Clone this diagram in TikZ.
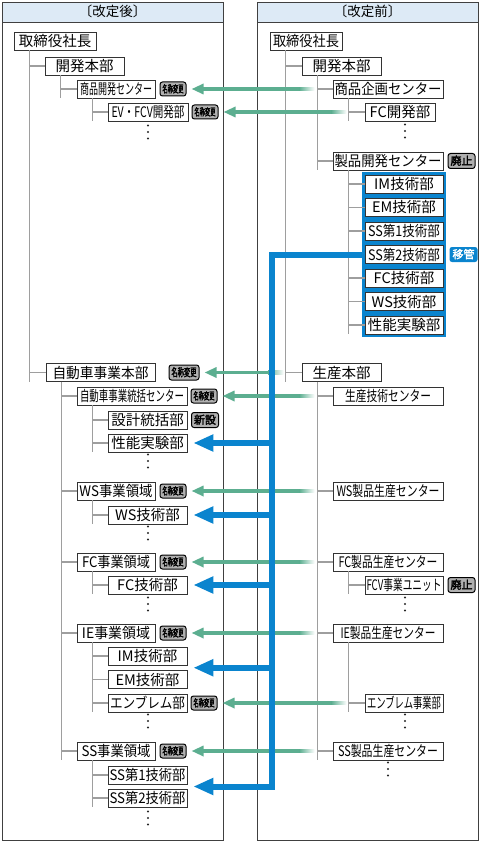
\documentclass[tikz,border=0pt]{standalone}
\usepackage{fontspec}
\setmainfont{Noto Sans CJK JP}
\newfontfamily\bdgfont{Noto Sans CJK JP}[FakeBold=2.5]
\usepackage{graphicx}
\usetikzlibrary{arrows.meta, calc, fit, backgrounds}

\definecolor{grn}{RGB}{92,174,144}
\definecolor{blu}{RGB}{10,132,206}
\definecolor{hdrbg}{RGB}{221,234,246}
\definecolor{treeg}{RGB}{158,158,158}
\definecolor{bdggray}{RGB}{176,176,176}

% squeeze text to a given width
\newcommand\sqz[2]{\resizebox{#1}{\height}{#2}}

\tikzset{
  box/.style={draw=black!80, fill=white, line width=0.7pt, minimum width=#1,
    minimum height=18pt, inner sep=0pt, text height=12.2pt, text depth=1.2pt,
    font=\fontsize{14.5}{15}\selectfont},
  box/.default=79pt,
  badge/.style={draw=black, line width=1pt, fill=bdggray, rounded corners=2.5pt,
    minimum height=14pt, inner xsep=2.5pt, inner ysep=0pt, text height=8pt,
    text depth=0.8pt, font=\bdgfont\fontsize{10}{10}\selectfont},
  bigbadge/.style={badge, minimum height=15pt, text height=8.6pt, text depth=0.9pt,
    font=\bdgfont\fontsize{11}{11}\selectfont},
  blubadge/.style={fill=blu, text=white, rounded corners=2.5pt, minimum height=15pt,
    inner xsep=3pt, inner ysep=0pt, text height=8.6pt, text depth=0.9pt,
    font=\bdgfont\fontsize{11}{11}\selectfont},
  hdr/.style={draw=black!75, fill=hdrbg, line width=0.9pt, minimum width=221pt,
    minimum height=20pt, inner sep=0pt, text height=11pt, text depth=1.5pt,
    font=\fontsize{13.5}{14}\selectfont},
  panel/.style={draw=black!75, line width=0.9pt},
  tree/.style={draw=treeg, line width=1.2pt},
  grarr/.style={draw=grn, line width=3.5pt, -{Triangle[length=12pt,width=10pt]},
    shorten <=33pt, shorten >=5pt},
  bluarr/.style={draw=blu, line width=6pt, -{Triangle[length=20pt,width=16pt]},
    shorten >=6pt},
  vdot/.pic={\foreach \k in {-6.5,0,6.5} \fill[black!85] (0,\k) circle (1.2pt);}
}

\begin{document}
\begin{tikzpicture}[x=1pt, y=-1pt]
    \useasboundingbox (0,0) rectangle (481,842);

    % panels
    \draw[panel] (2,2) rectangle (223,840);
    \draw[panel] (257,2) rectangle (478,840);
    \node[hdr] (hda) at (112.5,12) {〔改定後〕};
    \node[hdr] (hdb) at (367.5,12) {〔改定前〕};

    % after
    \node[box=82pt] (aceo) at (55,41) {取締役社長};
    \node[box] (akai) at (84.5,66) {開発本部};
    \node[box=78pt] (ashoh) at (116,89) {\sqz{72pt}{商品開発センター}};
    \node[box=80pt] (aev) at (148,112) {\sqz{73pt}{EV・FCV開発部}};
    \node[box=109pt] (ajido) at (100.5,372.5) {\sqz{96pt}{自動車事業本部}};
    \node[box=110pt] (atoka) at (132,396) {\sqz{104pt}{自動車事業統括センター}};
    \node[box] (asek) at (147.5,420) {設計統括部};
    \node[box] (asei) at (147.5,443) {性能実験部};
    \node[box=78pt] (aws) at (116,491) {\sqz{73pt}{WS事業領域}};
    \node[box] (awst) at (147.5,515) {WS技術部};
    \node[box=78pt] (afc) at (116,562) {\sqz{68pt}{FC事業領域}};
    \node[box] (afct) at (147.5,585) {FC技術部};
    \node[box=78pt] (aie) at (116,633) {\sqz{68pt}{IE事業領域}};
    \node[box] (aim) at (147.5,656) {IM技術部};
    \node[box] (aem) at (147.5,679.5) {EM技術部};
    \node[box] (aemb) at (147.5,703) {\sqz{75pt}{エンブレム部}};
    \node[box=78pt] (ass) at (116,751) {\sqz{69pt}{SS事業領域}};
    \node[box] (ass1) at (147.5,775) {\sqz{76pt}{SS第1技術部}};
    \node[box] (ass2) at (147.5,798) {\sqz{76pt}{SS第2技術部}};

    \node[badge] (ga1) at (173,89) {\sqz{21pt}{名称変更}};
    \node[badge] (ga2) at (205,112) {\sqz{21pt}{名称変更}};
    \node[bigbadge] (ga3) at (184,372.5) {\sqz{25pt}{名称変更}};
    \node[badge] (ga4) at (204,396) {\sqz{21pt}{名称変更}};
    \node[bigbadge, inner xsep=2.5pt] (ga5) at (205,420) {新設};
    \node[badge] (ga6) at (173,491) {\sqz{21pt}{名称変更}};
    \node[badge] (ga7) at (173,562) {\sqz{21pt}{名称変更}};
    \node[badge] (ga8) at (173,633) {\sqz{21pt}{名称変更}};
    \node[badge] (ga9) at (204,703) {\sqz{21pt}{名称変更}};
    \node[badge] (ga10) at (173,751) {\sqz{21pt}{名称変更}};

    % before
    \node[box=72pt] (bceo) at (306,41) {\sqz{66pt}{取締役社長}};
    \node[box] (bkai) at (341.5,66) {開発本部};
    \node[box=110pt] (bshoh) at (388,89) {\sqz{107pt}{商品企画センター}};
    \node[box=70pt] (bfc) at (400,112) {FC開発部};
    \node[box=110pt] (bsei) at (388,161) {\sqz{107pt}{製品開発センター}};
    \node[box=78pt] (bim) at (404,184) {IM技術部};
    \node[box=78pt] (bem) at (404,207.5) {EM技術部};
    \node[box=78pt] (bss1) at (404,231) {\sqz{72pt}{SS第1技術部}};
    \node[box=78pt] (bss2) at (404,254.5) {\sqz{72pt}{SS第2技術部}};
    \node[box=78pt] (bfct) at (404,278) {FC技術部};
    \node[box=78pt] (bwst) at (404,301.5) {WS技術部};
    \node[box=78pt] (bpe) at (404,325) {性能実験部};
    \node[box] (bsan) at (341.5,372.5) {生産本部};
    \node[box=110pt] (bgij) at (388,396) {\sqz{86pt}{生産技術センター}};
    \node[box=110pt] (bws) at (388,491) {\sqz{103pt}{WS製品生産センター}};
    \node[box=110pt] (bfcp) at (388,562) {\sqz{99pt}{FC製品生産センター}};
    \node[box=78pt] (bfcv) at (404,585) {\sqz{75pt}{FCV事業ユニット}};
    \node[box=110pt] (bie) at (388,633) {\sqz{95pt}{IE製品生産センター}};
    \node[box=78pt] (bemb) at (404,703) {\sqz{74pt}{エンブレム事業部}};
    \node[box=110pt] (bss) at (388,751) {\sqz{100pt}{SS製品生産センター}};

    \node[bigbadge, inner xsep=2.5pt] (gb1) at (461.5,161) {廃止};
    \node[blubadge] (gb2) at (463.5,254.5) {移管};
    \node[bigbadge, inner xsep=2.5pt] (gb3) at (461.5,585) {廃止};

    \begin{scope}[on background layer]
        \node[fill=blu, inner sep=3pt, fit=(bim)(bpe)] (bframe) {};
    \end{scope}

    \pic at (148,132) {vdot};
    \pic at (148,461) {vdot};
    \pic at (148,533) {vdot};
    \pic at (148,604) {vdot};
    \pic at (148,721) {vdot};
    \pic at (148,818) {vdot};
    \pic at (405,131) {vdot};
    \pic at (405,604) {vdot};
    \pic at (405,721) {vdot};
    \pic at (388,769) {vdot};

    % tree lines
    \foreach \p/\c in {aceo/akai, aceo/ajido, akai/ashoh, ashoh/aev,
        ajido/atoka, atoka/asek, atoka/asei, ajido/aws, aws/awst, ajido/afc,
        afc/afct, ajido/aie, aie/aim, aie/aem, aie/aemb, ajido/ass, ass/ass1,
        ass/ass2, bceo/bkai, bceo/bsan, bkai/bshoh, bshoh/bfc, bkai/bsei,
        bsei/bim, bsei/bem, bsei/bss1, bsei/bss2, bsei/bfct, bsei/bwst,
        bsei/bpe, bsan/bgij, bsan/bws, bsan/bfcp, bfcp/bfcv, bsan/bie,
        bie/bemb, bsan/bss}
    {
        \coordinate (stem) at ([xshift=16pt]\p.south west);
        \draw[tree] (stem) -- (stem |- \c.south) (stem |- \c.west) -- (\c.west);
    }

    % renamed
    \foreach \r/\b in {bshoh/ga1, bfc/ga2, bsan/ga3, bgij/ga4, bws/ga6,
        bfcp/ga7, bie/ga8, bemb/ga9, bss/ga10}
    {
        \draw[grarr] (\r.west) -- (\b.east);
        \shade[left color=grn, right color=white]
            ([xshift=-33.5pt,yshift=1.75pt]\r.west) rectangle
            ([xshift=-18pt,yshift=-1.75pt]\r.west);
    }

    % moved
    \coordinate (bus) at (272,254.5);
    \coordinate (aie2) at ($(aim.east)!.5!(aem.east)$);
    \coordinate (ass12) at ($(ass1.east)!.5!(ass2.east)$);
    \foreach \t in {asei.east, awst.east, afct.east, aie2, ass12}
        \draw[bluarr] (bss2.west) -- (bus) |- (\t);
\end{tikzpicture}
\end{document}
